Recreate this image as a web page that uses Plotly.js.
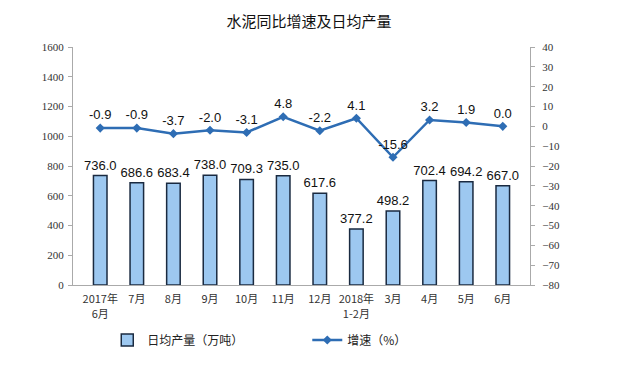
<!DOCTYPE html>
<html><head><meta charset="utf-8">
<script src="https://cdn.plot.ly/plotly-3.0.1.min.js"></script>
<style>body{margin:0;background:#fff}#c{width:618px;height:367px}</style>
</head><body><div id="c"></div>
<script>
const categories = ["2017年<br>6月","7月","8月","9月","10月","11月","12月","2018年<br>1-2月","3月","4月","5月","6月"];
const dailyOutput = [736.0,686.6,683.4,738.0,709.3,735.0,617.6,377.2,498.2,702.4,694.2,667.0];
const growthRate = [-0.9,-0.9,-3.7,-2.0,-3.1,4.8,-2.2,4.1,-15.6,3.2,1.9,0.0];
const leftTicks = [0,200,400,600,800,1000,1200,1400,1600];
const rightTicks = [-80,-70,-60,-50,-40,-30,-20,-10,0,10,20,30,40];

const traces = [
  {type:'bar', name:'日均产量（万吨）', x:categories, y:dailyOutput,
   text:dailyOutput.map(v=>v.toFixed(1)), textposition:'outside', cliponaxis:false, constraintext:'none',
   textfont:{family:'Liberation Sans, Arial', size:13, color:'#111'},
   marker:{color:'#9DC8F0', line:{color:'#1a2a40', width:1.5}}, width:0.37},
  {type:'scatter', name:'增速（%）', x:categories, y:growthRate, yaxis:'y2',
   mode:'lines+markers+text', text:growthRate.map(v=>v.toFixed(1)), textposition:'top center',
   textfont:{family:'Liberation Sans, Arial', size:13, color:'#111'}, cliponaxis:false,
   line:{color:'#2E6DB4', width:2.5}, marker:{symbol:'diamond', size:7, color:'#2E6DB4'}}
];
const tickFont = {family:'Liberation Serif, Times New Roman', size:11, color:'#333'};
const layout = {
  width:618, height:367, margin:{l:73, r:88, t:47, b:82},
  paper_bgcolor:'#fff', plot_bgcolor:'#fff',
  title:{text:'水泥同比增速及日均产量', x:0.5, xanchor:'center', y:0.94, yanchor:'middle',
    font:{family:'Noto Sans CJK SC', size:15, color:'#111'}},
  showlegend:true,
  legend:{orientation:'h', x:0.075, y:-0.17, xanchor:'left', yanchor:'top', entrywidth:155, entrywidthmode:'pixels',
    font:{family:'Noto Sans CJK SC', size:12, color:'#222'}, traceorder:'normal'},
  xaxis:{type:'category', showline:true, linecolor:'#aaa', linewidth:1, ticks:'', showgrid:false, ticklabelstandoff:4,
    tickfont:{family:'Noto Sans CJK SC', size:11, color:'#333'}, automargin:false},
  yaxis:{range:[0,1600], tickvals:leftTicks, showline:true, linecolor:'#aaa', ticks:'outside', ticklen:4, tickcolor:'#aaa',
    showgrid:false, zeroline:false, tickfont:tickFont, automargin:false, ticklabelstandoff:2},
  yaxis2:{range:[-80,40], tickvals:rightTicks, overlaying:'y', side:'right', showline:true, linecolor:'#aaa',
    ticks:'outside', ticklen:4, tickcolor:'#aaa', showgrid:false, zeroline:false, tickfont:tickFont, automargin:false, ticklabelstandoff:5},
  bargap:0.63
};
Plotly.newPlot('c', traces, layout, {displayModeBar:false, staticPlot:true});
</script></body></html>
